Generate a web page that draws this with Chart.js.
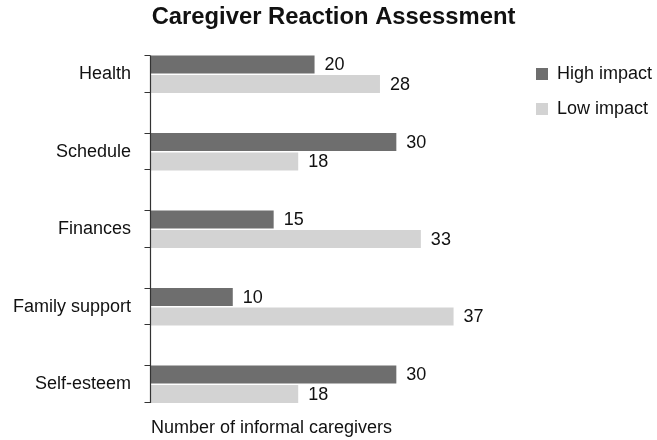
<!DOCTYPE html>
<html>
<head>
<meta charset="utf-8">
<script src="https://cdn.jsdelivr.net/npm/chart.js@4"></script>
<style>
  html, body { margin: 0; padding: 0; background: #fff; overflow: hidden; }
  canvas { display: block; }
</style>
</head>
<body>
<canvas id="my-chart" width="657" height="440"></canvas>
<script>
const categories = ["Health", "Schedule", "Finances", "Family support", "Self-esteem"];
const highImpact = [20, 30, 15, 10, 30];
const lowImpact = [28, 18, 33, 37, 18];

const FONT = "'Liberation Sans', Arial, Helvetica, sans-serif";
Chart.defaults.font.family = FONT;
Chart.defaults.color = '#111';

// value labels to the right of each bar
const valueLabels = {
  id: 'valueLabels',
  afterDatasetsDraw(chart) {
    const ctx = chart.ctx;
    ctx.save();
    ctx.font = '18px ' + FONT;
    ctx.fillStyle = '#111';
    ctx.textAlign = 'left';
    ctx.textBaseline = 'middle';
    chart.data.datasets.forEach((ds, di) => {
      chart.getDatasetMeta(di).data.forEach((bar, i) => {
        ctx.fillText(ds.data[i], bar.x + 10, bar.y + 1);
      });
    });
    ctx.restore();
  }
};

// y axis line with small ticks at the top and bottom of each bar pair
const axisTicks = {
  id: 'axisTicks',
  afterDatasetsDraw(chart) {
    const ctx = chart.ctx;
    const top = chart.getDatasetMeta(0).data;
    const bottom = chart.getDatasetMeta(1).data;
    const x = Math.round(chart.chartArea.left) - 0.5;
    ctx.save();
    ctx.strokeStyle = '#333';
    ctx.lineWidth = 1.2;
    ctx.beginPath();
    const y0 = top[0].y - top[0].height / 2;
    const last = bottom[bottom.length - 1];
    const y1 = last.y + last.height / 2;
    ctx.moveTo(x, y0);
    ctx.lineTo(x, y1);
    top.forEach((bar, i) => {
      const a = Math.round(bar.y - bar.height / 2) + 0.5;
      const b = Math.round(bottom[i].y + bottom[i].height / 2) - 0.5;
      ctx.moveTo(x - 6, a); ctx.lineTo(x, a);
      ctx.moveTo(x - 6, b); ctx.lineTo(x, b);
    });
    ctx.stroke();
    ctx.restore();
  }
};

const ctx = document.getElementById('my-chart').getContext('2d');
new Chart(ctx, {
  type: 'bar',
  data: {
    labels: categories,
    datasets: [
      {
        label: 'High impact',
        data: highImpact,
        backgroundColor: '#6e6e6e',
        categoryPercentage: 0.503,
        barPercentage: 0.92
      },
      {
        label: 'Low impact',
        data: lowImpact,
        backgroundColor: '#d3d3d3',
        categoryPercentage: 0.503,
        barPercentage: 0.92
      }
    ]
  },
  options: {
    indexAxis: 'y',
    responsive: false,
    animation: false,
    layout: { padding: { left: 10, right: 0, top: 0, bottom: 0 } },
    scales: {
      x: {
        min: 0,
        max: 45,
        grid: { display: false, drawTicks: false },
        border: { display: false },
        ticks: { display: false },
        title: {
          display: true,
          text: 'Number of informal caregivers',
          align: 'start',
          color: '#111',
          font: { size: 18 },
          padding: { top: -5.75, bottom: 1.2 }
        }
      },
      y: {
        // grid hidden; tickLength only used as the gap before the labels
        grid: { display: false, drawTicks: true, tickLength: 20 },
        border: { display: false },
        ticks: { color: '#111', font: { size: 18 }, padding: 0 },
        afterFit(scale) { scale.width = 141; }
      }
    },
    plugins: {
      title: {
        display: true,
        text: 'Caregiver Reaction Assessment',
        color: '#111',
        font: { size: 23.8, weight: 'bold' },
        padding: { top: 3.3, bottom: 3.6 }
      },
      legend: {
        position: 'right',
        align: 'start',
        fullSize: false,
        maxWidth: 138,
        title: { display: true, text: ' ', padding: 0, font: { size: 10, lineHeight: 1.25 } },
        labels: {
          boxWidth: 12,
          boxHeight: 12,
          padding: 17,
          color: '#111',
          font: { size: 18 }
        }
      },
      tooltip: { enabled: false }
    }
  },
  plugins: [valueLabels, axisTicks]
});
</script>
</body>
</html>
